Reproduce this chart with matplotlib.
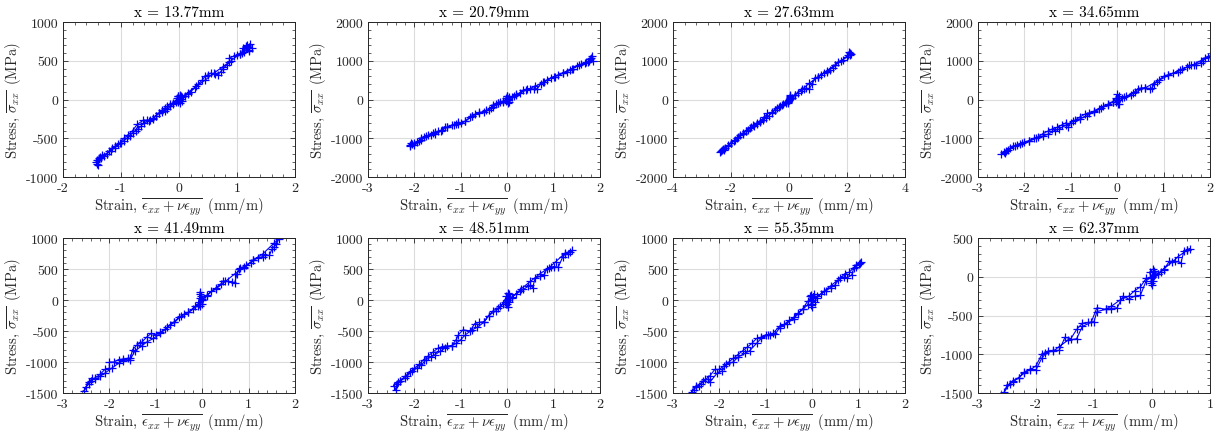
import matplotlib
matplotlib.use("Agg")
import matplotlib.pyplot as plt
from matplotlib.ticker import MultipleLocator, AutoMinorLocator

plt.rcParams["font.family"] = "serif"
plt.rcParams["font.serif"] = ["cmr10", "DejaVu Serif"]
plt.rcParams["mathtext.fontset"] = "cm"
plt.rcParams["axes.unicode_minus"] = False
plt.rcParams["axes.formatter.use_mathtext"] = False

titles = ["x = 13.77mm", "x = 20.79mm", "x = 27.63mm", "x = 34.65mm",
          "x = 41.49mm", "x = 48.51mm", "x = 55.35mm", "x = 62.37mm"]

# panel 1
strain_1 = [0.0, 0.03, -0.02, 0.02, -0.03, 0.01, 0.04, -0.01, 0.05, 0.1, 0.15, 0.2, 0.27, 0.33,
            0.4, 0.45, 0.5, 0.55, 0.62, 0.67, 0.72, 0.76, 0.82, 0.87, 0.87, 0.95, 1.0, 1.05, 1.08,
            1.1, 1.15, 1.18, 1.2, 1.22, 1.25, 1.15, 1.2, 1.17, 1.12, 1.05, 0.9, 0.75, 0.6, 0.45,
            0.3, 0.15, 0.05, -0.02, 0.01, -0.01,
            -0.05, -0.1, -0.15, -0.2, -0.25, -0.3, -0.35, -0.4, -0.45, -0.52, -0.6, -0.65, -0.7,
            -0.75, -0.8, -0.85, -0.9, -0.95, -1.0, -1.05, -1.1, -1.15, -1.2, -1.25, -1.3, -1.35,
            -1.4, -1.42, -1.38, -1.43, -1.4, -1.36, -1.42, -1.32, -1.25, -1.18, -1.1, -1.02, -0.95,
            -0.88, -0.8, -0.72, -0.62, -0.55, -0.5, -0.45, -0.4, -0.35, -0.3, -0.25, -0.2, -0.15,
            -0.1, -0.05, 0.0]
stress_1 = [0, 40, -30, 60, 20, -40, 10, 50, -20, 40, 70, 100, 150, 200,
            250, 300, 320, 340, 330, 320, 360, 400, 440, 480, 540, 560, 580, 590, 600,
            660, 680, 700, 640, 720, 670, 690, 630, 660, 610, 590, 500, 420, 340, 250,
            170, 90, 30, 50, -20, 0,
            -30, -60, -90, -120, -150, -160, -180, -210, -250, -280, -300, -340, -380,
            -400, -430, -470, -500, -530, -560, -580, -600, -630, -660, -700, -730, -760,
            -780, -830, -760, -800, -850, -740, -780, -720, -700, -660, -620, -560, -500,
            -460, -400, -320, -270, -265, -260, -240, -210, -180, -140, -110, -90, -60,
            -40, -20, 0]

# panel 2
strain_2 = [0.0, 0.03, -0.03, 0.02, -0.01, 0.04, 0.0, 0.1, 0.15, 0.2, 0.28, 0.35, 0.42, 0.5,
            0.58, 0.65, 0.72, 0.78, 0.85, 0.95, 1.02, 1.1, 1.2, 1.28, 1.35, 1.42, 1.5, 1.6, 1.68,
            1.75, 1.8, 1.85, 1.78, 1.82, 1.76, 1.7, 1.55, 1.4, 1.2, 1.0, 0.8, 0.6, 0.4, 0.2, 0.02,
            -0.02, 0.01,
            -0.1, -0.15, -0.2, -0.25, -0.3, -0.35, -0.4, -0.5, -0.6, -0.7, -0.75, -0.8, -0.9,
            -1.0, -1.05, -1.1, -1.2, -1.3, -1.35, -1.4, -1.5, -1.55, -1.6, -1.7, -1.8, -1.85,
            -1.9, -2.0, -2.1, -2.05, -2.08, -2.0, -2.1, -1.95, -1.85, -1.75, -1.65, -1.55, -1.42,
            -1.3, -1.15, -1.05, -0.9, -0.75, -0.6, -0.45, -0.3, -0.2, -0.1, 0.0]
stress_2 = [0, 60, -40, 20, 80, -60, 100, 60, 90, 130, 180, 250, 270, 280,
            270, 280, 400, 440, 500, 560, 590, 620, 680, 700, 760, 800, 860, 920, 940,
            960, 1080, 1000, 1050, 1120, 1000, 960, 880, 800, 690, 590, 460, 340, 240, 110, -20,
            50, -80,
            -40, -60, -90, -110, -150, -230, -280, -320, -330, -380, -420, -450, -560,
            -600, -590, -620, -660, -720, -700, -780, -820, -850, -870, -920, -980, -1000,
            -1060, -1120, -1180, -1150, -1120, -1180, -1200, -1100, -1050, -950, -910, -890, -800,
            -720, -660, -620, -560, -420, -360, -280, -200, -100, -60, 0]

# panel 3
strain_3 = [0.0, 0.05, -0.05, 0.02, -0.02, 0.04, 0.1, 0.2, 0.3, 0.4, 0.5, 0.6, 0.7, 0.8, 0.9,
            1.0, 1.1, 1.2, 1.3, 1.4, 1.5, 1.6, 1.7, 1.85, 2.0, 2.1, 2.15, 2.08, 2.12, 2.05, 1.8,
            1.6, 1.3, 1.0, 0.7, 0.45, 0.2, 0.05, -0.02, 0.03,
            -0.1, -0.2, -0.3, -0.4, -0.5, -0.6, -0.7, -0.8, -0.9, -1.0, -1.1, -1.2, -1.3, -1.4,
            -1.5, -1.6, -1.7, -1.8, -1.9, -2.0, -2.1, -2.2, -2.3, -2.35, -2.28, -2.38, -2.25,
            -2.1, -2.0, -1.85, -1.75, -1.6, -1.5, -1.35, -1.25, -1.1, -1.0, -0.85, -0.75, -0.6,
            -0.5, -0.35, -0.25, -0.1, 0.0]
stress_3 = [0, 80, -40, 30, -80, 120, 50, 120, 180, 230, 280, 290, 280, 400, 550,
            580, 640, 680, 720, 770, 820, 880, 960, 1020, 1100, 1200, 1180, 1220, 1160, 1150, 1000,
            900, 740, 580, 420, 260, 110, 20, -60, 60,
            -80, -120, -170, -220, -280, -350, -420, -470, -520, -570, -620, -680, -720, -780,
            -820, -870, -920, -990, -1060, -1120, -1180, -1240, -1300, -1330, -1280, -1360, -1300,
            -1200, -1120, -1050, -980, -880, -820, -740, -660, -600, -560, -460, -360, -330,
            -260, -200, -130, -60, 0]

# panel 4
strain_4 = [0.0, 0.03, -0.03, 0.02, -0.01, 0.04, 0.1, 0.2, 0.3, 0.38, 0.45, 0.52, 0.6, 0.7,
            0.75, 0.8, 0.9, 1.0, 1.1, 1.2, 1.3, 1.4, 1.5, 1.55, 1.65, 1.7, 1.8, 1.85, 1.9, 2.0,
            1.95, 1.8, 1.6, 1.35, 1.1, 0.85, 0.6, 0.35, 0.15, 0.01, -0.02,
            -0.1, -0.2, -0.3, -0.4, -0.5, -0.6, -0.7, -0.8, -0.9, -1.0, -1.05, -1.1, -1.2, -1.3,
            -1.4, -1.5, -1.6, -1.7, -1.8, -1.9, -2.0, -2.1, -2.2, -2.3, -2.4, -2.5, -2.45, -2.42,
            -2.35, -2.25, -2.15, -2.05, -1.9, -1.75, -1.6, -1.5, -1.35, -1.25, -1.1, -0.95, -0.8,
            -0.65, -0.5, -0.35, -0.2, -0.1, 0.0]
stress_4 = [0, 80, -60, 40, 130, -120, 40, 80, 120, 200, 280, 300, 300, 280,
            300, 400, 500, 600, 640, 680, 720, 780, 840, 880, 890, 900, 950, 1000, 1080, 1120,
            1100, 1000, 880, 760, 620, 460, 300, 170, 60, -120, 50,
            -60, -120, -180, -240, -300, -340, -380, -450, -520, -600, -700, -600, -660, -720,
            -760, -820, -880, -960, -1000, -1060, -1100, -1140, -1200, -1260, -1320, -1400, -1360, -1380,
            -1300, -1200, -1180, -1120, -1080, -1000, -940, -900, -800, -760, -660, -560, -500,
            -420, -320, -230, -140, -60, 0]

# panel 5
strain_5 = [0.0, -0.05, -0.05, -0.03, -0.06, -0.04, -0.07, 0.0, 0.1, 0.2, 0.3, 0.4, 0.45, 0.55,
            0.65, 0.7, 0.75, 0.8, 0.82, 0.9, 0.95, 1.05, 1.1, 1.2, 1.3, 1.35, 1.45, 1.5, 1.55,
            1.6, 1.65, 1.55, 1.3, 1.1, 0.9, 0.7, 0.5, 0.3, 0.1, 0.0, -0.05,
            -0.1, -0.2, -0.3, -0.4, -0.5, -0.6, -0.7, -0.8, -0.9, -1.0, -1.1, -1.2, -1.3, -1.35,
            -1.4, -1.5, -1.55, -1.6, -1.7, -1.8, -1.9, -2.0, -2.0, -2.1, -2.2, -2.3, -2.4, -2.45,
            -2.55, -2.5, -2.45, -2.38, -2.3, -2.2, -2.1, -1.95, -1.8, -1.7, -1.55, -1.45, -1.3,
            -1.2, -1.05, -0.9, -0.75, -0.6, -0.45, -0.3, -0.15, -0.05, 0.0]
stress_5 = [0, 130, -100, 60, -40, 90, -60, 20, 70, 140, 200, 260, 310, 300,
            290, 280, 420, 500, 520, 540, 560, 600, 640, 680, 700, 720, 720, 820, 860,
            900, 980, 920, 740, 650, 520, 420, 300, 180, 80, -60, 40,
            -90, -150, -200, -230, -280, -350, -400, -470, -520, -560, -540, -600, -680, -700,
            -720, -800, -940, -940, -950, -960, -1000, -1000, -1100, -1120, -1200, -1250, -1300, -1320,
            -1470, -1400, -1350, -1260, -1280, -1230, -1180, -1100, -1020, -980, -960, -820, -740,
            -680, -620, -540, -440, -360, -260, -200, -100, -60, 0]

# panel 6
strain_6 = [0.0, 0.03, -0.03, 0.05, 0.01, -0.02, 0.04, 0.1, 0.2, 0.28, 0.35, 0.45, 0.5, 0.55,
            0.6, 0.7, 0.8, 0.85, 0.95, 1.0, 1.1, 1.2, 1.25, 1.3, 1.4, 1.35, 1.25, 1.05, 0.9, 0.7,
            0.5, 0.3, 0.1, 0.0, 0.02,
            -0.1, -0.2, -0.3, -0.4, -0.5, -0.6, -0.7, -0.8, -0.95, -1.05, -1.1, -1.2, -1.3, -1.4,
            -1.5, -1.6, -1.7, -1.8, -1.9, -2.0, -2.1, -2.2, -2.3, -2.35, -2.45, -2.4, -2.38, -2.3,
            -2.2, -2.15, -2.05, -1.95, -1.85, -1.75, -1.65, -1.55, -1.45, -1.35, -1.2, -1.1,
            -1.0, -0.9, -0.75, -0.65, -0.5, -0.4, -0.25, -0.15, -0.05, 0.0]
stress_6 = [0, 100, -60, 40, -120, 60, -30, 50, 100, 140, 170, 220, 240, 200,
            350, 380, 400, 500, 530, 540, 530, 700, 740, 750, 800, 780, 760, 620, 520, 420,
            300, 180, 40, -60, 110,
            -70, -130, -170, -250, -350, -360, -380, -500, -480, -560, -640, -740, -740, -750,
            -780, -840, -900, -960, -1040, -1100, -1160, -1230, -1300, -1320, -1380, -1450, -1350, -1300,
            -1260, -1220, -1150, -1100, -1050, -960, -920, -880, -830, -780, -740, -700,
            -640, -560, -480, -440, -360, -250, -180, -100, -40, 0]

# panel 7
strain_7 = [0.0, 0.03, -0.03, 0.02, 0.0, -0.04, 0.05, 0.1, 0.2, 0.3, 0.4, 0.5, 0.6, 0.68, 0.75,
            0.85, 0.9, 0.95, 1.0, 1.05, 1.02, 0.95, 0.8, 0.7, 0.55, 0.4, 0.25, 0.1, 0.0, -0.02,
            -0.1, -0.2, -0.3, -0.4, -0.5, -0.6, -0.7, -0.8, -0.9, -1.0, -1.1, -1.2, -1.3, -1.4,
            -1.5, -1.6, -1.7, -1.8, -1.9, -2.0, -2.1, -2.2, -2.3, -2.4, -2.5, -2.55, -2.6, -2.5,
            -2.45, -2.35, -2.25, -2.2, -2.05, -1.95, -1.85, -1.7, -1.6, -1.45, -1.35, -1.2, -1.1,
            -0.95, -0.85, -0.7, -0.55, -0.4, -0.3, -0.2, -0.1, 0.0]
stress_7 = [0, 100, -80, 50, -120, 60, -40, 60, 100, 150, 200, 250, 360, 370, 360,
            400, 520, 540, 580, 620, 600, 560, 450, 420, 320, 230, 140, 40, -60, 80,
            -80, -150, -210, -280, -330, -390, -450, -550, -560, -560, -600, -620, -700, -760,
            -820, -880, -940, -1000, -1060, -1120, -1120, -1220, -1280, -1360, -1400, -1450, -1480, -1380,
            -1380, -1300, -1280, -1320, -1180, -1150, -1040, -1000, -920, -860, -820, -700, -620,
            -560, -540, -420, -380, -300, -220, -140, -20, 0]

# panel 8
strain_8 = [0.0, 0.03, -0.02, 0.05, 0.0, -0.04, 0.02, 0.1, 0.15, 0.2, 0.3, 0.4, 0.5, 0.55,
            0.6, 0.65, 0.6, 0.45, 0.35, 0.2, 0.1, 0.02, 0.04,
            -0.1, -0.2, -0.3, -0.4, -0.5, -0.6, -0.7, -0.8, -0.95, -1.0, -1.1, -1.2, -1.3, -1.4,
            -1.5, -1.6, -1.7, -1.8, -1.9, -2.0, -2.1, -2.2, -2.3, -2.4, -2.45, -2.55, -2.5, -2.4,
            -2.3, -2.2, -2.1, -2.0, -1.9, -1.85, -1.7, -1.6, -1.45, -1.3, -1.2, -1.05, -0.95,
            -0.8, -0.7, -0.55, -0.4, -0.3, -0.2, -0.1, 0.0]
stress_8 = [0, 80, -80, 40, -100, 60, 100, 30, 60, 90, 200, 200, 180, 330,
            350, 360, 340, 260, 190, 100, 40, -60, 20,
            -50, -240, -250, -290, -250, -400, -410, -420, -450, -580, -590, -600, -680, -800,
            -780, -950, -950, -960, -1050, -1200, -1190, -1230, -1310, -1340, -1380, -1490, -1400, -1360,
            -1300, -1240, -1200, -1150, -1000, -980, -960, -900, -820, -800, -640, -590, -400,
            -420, -380, -300, -250, -180, -130, -20, 0]

strains = [strain_1, strain_2, strain_3, strain_4, strain_5, strain_6, strain_7, strain_8]
stresses = [stress_1, stress_2, stress_3, stress_4, stress_5, stress_6, stress_7, stress_8]

xlims = [(-2, 2), (-3, 2), (-4, 4), (-3, 2), (-3, 2), (-3, 2), (-3, 2), (-3, 1)]
ylims = [(-1000, 1000), (-2000, 2000), (-2000, 2000), (-2000, 2000),
         (-1500, 1000), (-1500, 1000), (-1500, 1000), (-1500, 500)]
xsteps = [1, 1, 2, 1, 1, 1, 1, 1]
ysteps = [500, 1000, 1000, 1000, 500, 500, 500, 500]

dark = "#262626"
fig = plt.figure(figsize=(12.26, 4.39), dpi=100)

lefts = [63, 368, 673, 978]
for i in range(8):
    row, col = divmod(i, 4)
    top_px = 23 if row == 0 else 239
    ax = fig.add_axes([lefts[col] / 1226, (439 - top_px - 155) / 439, 232 / 1226, 155 / 439])
    ax.plot(strains[i], stresses[i], color="b", marker="+", markersize=5.5,
            markeredgewidth=0.9, linewidth=0.8)
    ax.set_xlim(xlims[i])
    ax.set_ylim(ylims[i])
    ax.xaxis.set_major_locator(MultipleLocator(xsteps[i]))
    ax.yaxis.set_major_locator(MultipleLocator(ysteps[i]))
    ax.xaxis.set_minor_locator(AutoMinorLocator(5))
    ax.yaxis.set_minor_locator(AutoMinorLocator(5))
    ax.tick_params(which="both", direction="in", top=True, right=True,
                   colors=dark, labelsize=10)
    ax.tick_params(which="major", length=3.5, width=0.6)
    ax.tick_params(which="minor", length=2, width=0.5)
    ax.grid(True, which="major", color="#dcdcdc", linewidth=0.8)
    ax.set_axisbelow(True)
    for sp in ax.spines.values():
        sp.set_color(dark)
        sp.set_linewidth(0.7)
    ax.set_title(titles[i], fontsize=11, color="black", pad=4)
    ax.set_xlabel(r"Strain, $\overline{\epsilon_{xx} + \nu\epsilon_{yy}}\,$ (mm/m)",
                  fontsize=10.5, color=dark, labelpad=1)
    ax.set_ylabel(r"Stress, $\overline{\sigma_{xx}}\,$ (MPa)", fontsize=10.5, color=dark,
                  labelpad=2)

fig.savefig("out.png", dpi=100)
